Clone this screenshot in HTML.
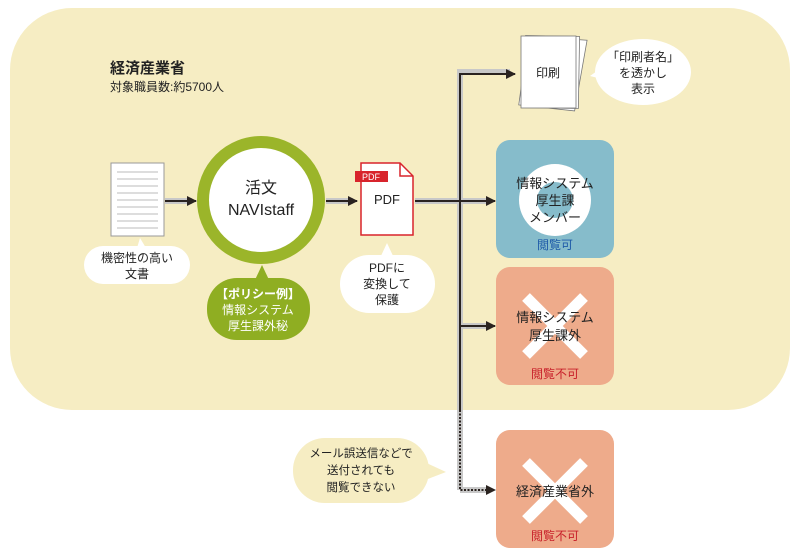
<!DOCTYPE html>
<html><head><meta charset="utf-8"><style>
body{margin:0;background:#fff;}
svg{display:block;font-family:"Liberation Sans","Noto Sans CJK JP",sans-serif;}
</style></head><body>
<svg width="800" height="558" viewBox="0 0 800 558" xmlns="http://www.w3.org/2000/svg">
<defs>
<marker id="ah" markerWidth="10" markerHeight="10" refX="9" refY="5" orient="auto" markerUnits="userSpaceOnUse"><path d="M0,0 L10,5 L0,10 z" fill="#2a2320"/></marker>
</defs>
<rect x="10" y="8" width="780" height="402" rx="62" fill="#f6edc3"/>
<text x="110" y="73" font-size="15" font-weight="bold" fill="#222">経済産業省</text>
<text x="110" y="91" font-size="12" fill="#222">対象職員数:約5700人</text>

<!-- document -->
<rect x="111" y="163" width="53" height="73" fill="#fff" stroke="#999" stroke-width="1"/>
<g stroke="#bbb" stroke-width="1">
<line x1="117" y1="172" x2="158" y2="172"/><line x1="117" y1="179" x2="158" y2="179"/><line x1="117" y1="186" x2="158" y2="186"/><line x1="117" y1="193" x2="158" y2="193"/><line x1="117" y1="200" x2="158" y2="200"/><line x1="117" y1="207" x2="158" y2="207"/><line x1="117" y1="214" x2="158" y2="214"/><line x1="117" y1="221" x2="158" y2="221"/><line x1="117" y1="228" x2="158" y2="228"/>
</g>
<!-- bubble doc -->
<path d="M137,248 L140,238 L146,248 z" fill="#fff"/>
<rect x="84" y="246" width="106" height="38" rx="19" fill="#fff"/>
<text x="137" y="262" font-size="12" text-anchor="middle" fill="#222">機密性の高い</text>
<text x="137" y="278" font-size="12" text-anchor="middle" fill="#222">文書</text>

<!-- arrows with grey shadow -->
<g stroke="#c8c8c8" stroke-width="6" fill="none">
<line x1="165" y1="201" x2="192" y2="201"/>
<line x1="326" y1="201" x2="353" y2="201"/>
<line x1="415" y1="201" x2="490" y2="201"/>
<path d="M460,490 L460,72 L510,72"/>
<line x1="460" y1="326" x2="490" y2="326"/>
<line x1="460" y1="490" x2="490" y2="490"/>
</g>
<g stroke="#2a2320" stroke-width="2" fill="none">
<line x1="165" y1="201" x2="196" y2="201" marker-end="url(#ah)"/>
<line x1="326" y1="201" x2="357" y2="201" marker-end="url(#ah)"/>
<line x1="415" y1="201" x2="495" y2="201" marker-end="url(#ah)"/>
<path d="M460,410 L460,74 L515,74" marker-end="url(#ah)"/>
<line x1="460" y1="326" x2="495" y2="326" marker-end="url(#ah)"/>
<path d="M460,410 L460,490 L495,490" stroke-dasharray="2,1.5" marker-end="url(#ah)"/>
</g>

<!-- circle -->
<circle cx="261" cy="200" r="58" fill="#fff" stroke="#9bb52a" stroke-width="12"/>
<text x="261" y="193" font-size="16" text-anchor="middle" fill="#222">活文</text>
<text x="261" y="215" font-size="16" text-anchor="middle" fill="#222">NAVIstaff</text>
<!-- green bubble -->
<path d="M254,282 L262,265 L270,282 z" fill="#8fae22"/>
<rect x="207" y="278" width="103" height="62" rx="30" fill="#8fae22"/>
<text x="258" y="298" font-size="12" font-weight="bold" text-anchor="middle" fill="#fff">【ポリシー例】</text>
<text x="258" y="314" font-size="12" text-anchor="middle" fill="#fff">情報システム</text>
<text x="258" y="330" font-size="12" text-anchor="middle" fill="#fff">厚生課外秘</text>

<!-- PDF -->
<path d="M361,163 L400,163 L413,176 L413,235 L361,235 z" fill="#fff" stroke="#d8242c" stroke-width="1.5"/>
<path d="M400,163 L400,176 L413,176" fill="none" stroke="#d8242c" stroke-width="1.5"/>
<rect x="355" y="171" width="33" height="11" fill="#d8242c"/>
<text x="371" y="180" font-size="9" text-anchor="middle" fill="#fff">PDF</text>
<text x="387" y="204" font-size="13" text-anchor="middle" fill="#222">PDF</text>
<!-- PDF bubble -->
<path d="M380,258 L387,243 L394,258 z" fill="#fff"/>
<rect x="340" y="255" width="95" height="58" rx="29" fill="#fff"/>
<text x="387" y="272" font-size="12" text-anchor="middle" fill="#222">PDFに</text>
<text x="387" y="288" font-size="12" text-anchor="middle" fill="#222">変換して</text>
<text x="387" y="304" font-size="12" text-anchor="middle" fill="#222">保護</text>

<!-- print pages -->
<g stroke="#777" stroke-width="0.8" fill="#fff">
<path d="M527,37 L586,39 L576,110 L520,106 z" transform="rotate(2 550 70)"/>
<rect x="525" y="36" width="54" height="72" transform="rotate(1 550 70)"/>
<rect x="521" y="36" width="55" height="72"/>
</g>
<text x="548" y="77" font-size="12" text-anchor="middle" fill="#222">印刷</text>
<!-- print bubble -->
<path d="M604,66 L590,76 L606,80 z" fill="#fff"/>
<ellipse cx="643" cy="72" rx="48" ry="33" fill="#fff"/>
<text x="643" y="61" font-size="12" text-anchor="middle" fill="#222">「印刷者名」</text>
<text x="643" y="77" font-size="12" text-anchor="middle" fill="#222">を透かし</text>
<text x="643" y="93" font-size="12" text-anchor="middle" fill="#222">表示</text>

<!-- blue box -->
<rect x="496" y="140" width="118" height="118" rx="14" fill="#86bccb"/>
<circle cx="555" cy="200" r="36" fill="#fff"/>
<circle cx="555" cy="200" r="18" fill="#86bccb"/>
<text x="555" y="188" font-size="13" text-anchor="middle" fill="#222">情報システム</text>
<text x="555" y="205" font-size="13" text-anchor="middle" fill="#222">厚生課</text>
<text x="555" y="222" font-size="13" text-anchor="middle" fill="#222">メンバー</text>
<text x="555" y="249" font-size="12" text-anchor="middle" fill="#1d5aa8">閲覧可</text>

<!-- salmon box 1 -->
<rect x="496" y="267" width="118" height="118" rx="14" fill="#eeab8b"/>
<g stroke="#fff" stroke-width="11"><line x1="526" y1="297" x2="584" y2="355"/><line x1="584" y1="297" x2="526" y2="355"/></g>
<text x="555" y="322" font-size="13" text-anchor="middle" fill="#222">情報システム</text>
<text x="555" y="340" font-size="13" text-anchor="middle" fill="#222">厚生課外</text>
<text x="555" y="378" font-size="12" text-anchor="middle" fill="#c8202a">閲覧不可</text>

<!-- salmon box 2 -->
<rect x="496" y="430" width="118" height="118" rx="14" fill="#eeab8b"/>
<g stroke="#fff" stroke-width="11"><line x1="526" y1="462" x2="584" y2="520"/><line x1="584" y1="462" x2="526" y2="520"/></g>
<text x="555" y="496" font-size="13" text-anchor="middle" fill="#222">経済産業省外</text>
<text x="555" y="540" font-size="12" text-anchor="middle" fill="#c8202a">閲覧不可</text>

<!-- mail bubble -->
<path d="M420,460 L446,472 L420,482 z" fill="#f6edc3"/>
<rect x="293" y="438" width="136" height="65" rx="32" fill="#f6edc3"/>
<text x="361" y="457" font-size="11.5" text-anchor="middle" fill="#222">メール誤送信などで</text>
<text x="361" y="474" font-size="11.5" text-anchor="middle" fill="#222">送付されても</text>
<text x="361" y="491" font-size="11.5" text-anchor="middle" fill="#222">閲覧できない</text>
</svg>
</body></html>
